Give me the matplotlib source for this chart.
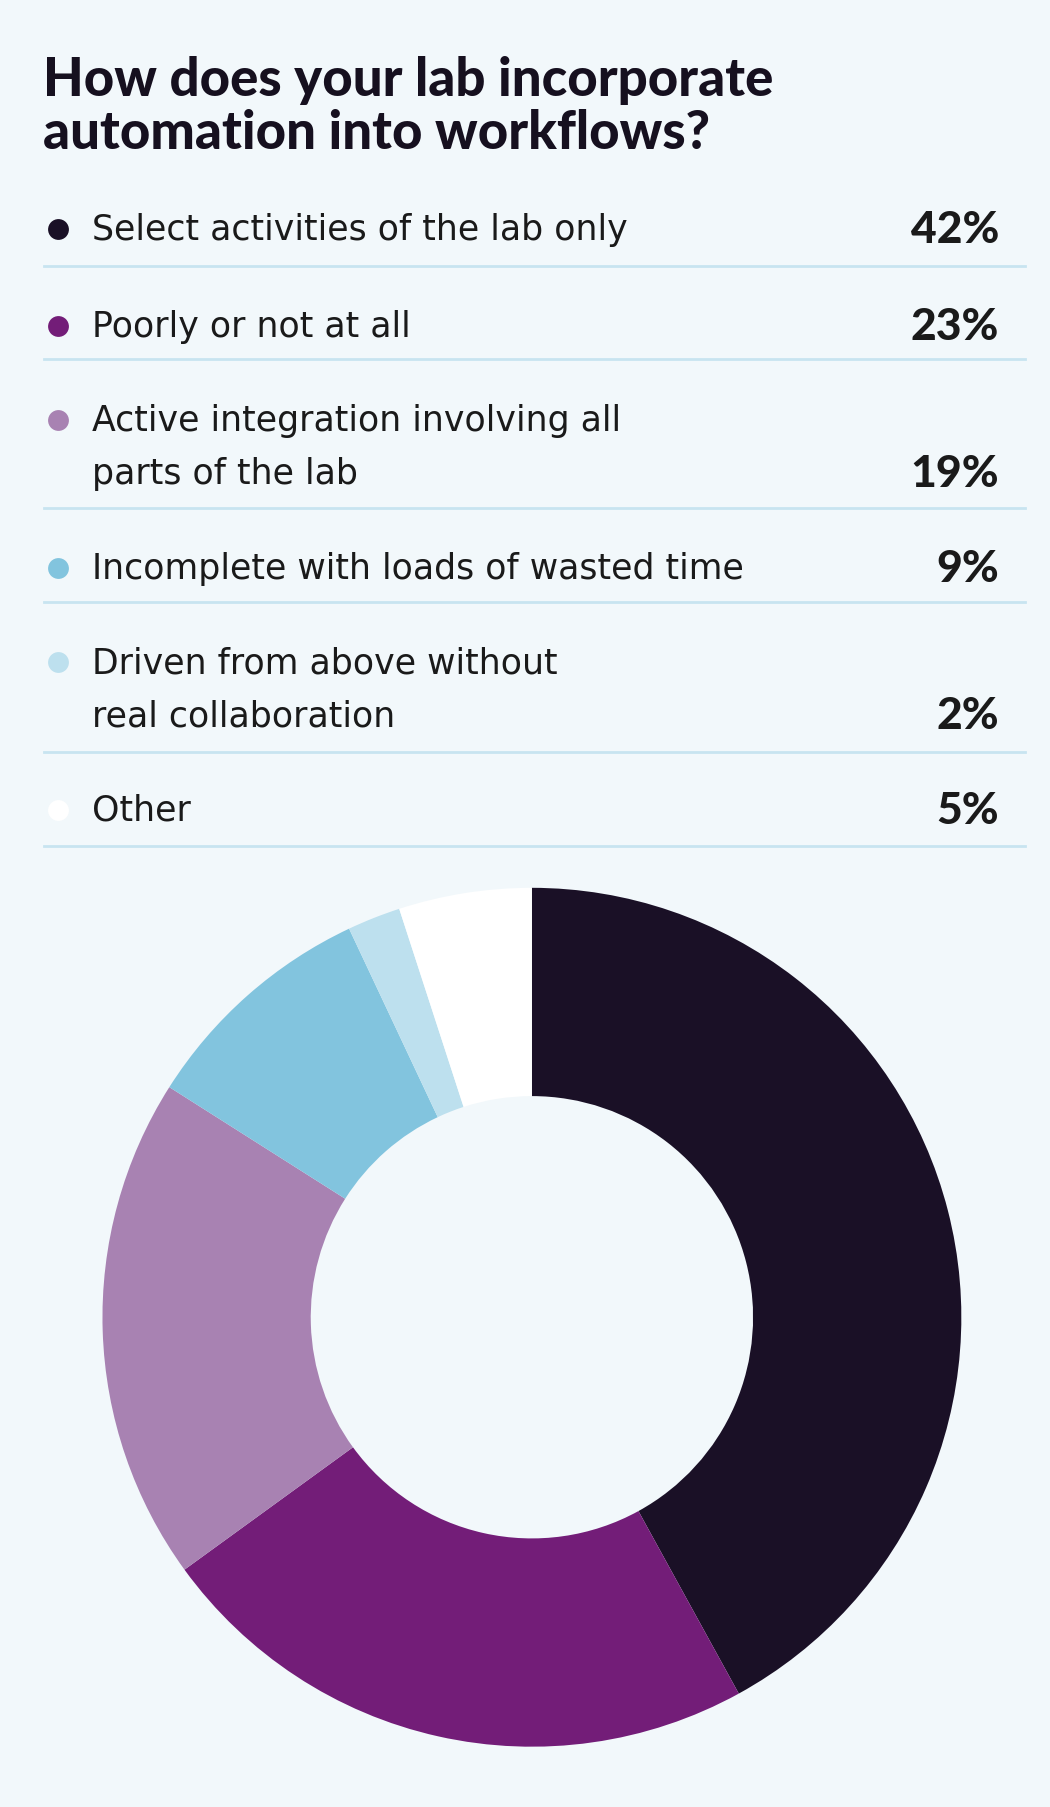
import matplotlib
matplotlib.use("Agg")
import matplotlib.pyplot as plt
from matplotlib.lines import Line2D

# === Data ===
LABELS = [
    "Select activities of the lab only",
    "Poorly or not at all",
    "Active integration involving all\nparts of the lab",
    "Incomplete with loads of wasted time",
    "Driven from above without\nreal collaboration",
    "Other",
]
VALUES = [42, 23, 19, 9, 2, 5]
COLORS = ["#1a1026", "#731d78", "#a882b2", "#82c4de", "#bde0ee", "#ffffff"]
TITLE = "How does your lab incorporate\nautomation into workflows?"

BG = "#f2f8fb"
RULE = "#c8e4f0"
TEXT = "#1a1a1a"

W, H = 1050, 1808
S = 1050 / 912  # layout measured on a 912px-wide copy


def fx(x):
    return x * S / W


def fy(y):
    return 1 - y * S / H


fig = plt.figure(figsize=(W / 100, H / 100), dpi=100)
fig.patch.set_facecolor(BG)

body_font = ["DejaVu Sans"]
bold_font = ["Lato", "DejaVu Sans"]

# title
fig.text(fx(37), fy(93), TITLE, ha="left", va="center", fontsize=38,
         fontweight="black", family=bold_font, color="#16101f", linespacing=1.08)

# legend rows: first-line y, separator y (layout only)
row_y = [200, 284, 366, 494, 576, 704]
rule_y = [232, 313, 442, 524, 654, 736]
line_gap = 46

for lab, val, col, y0, ry in zip(LABELS, VALUES, COLORS, row_y, rule_y):
    n = lab.count("\n") + 1
    fig.add_artist(Line2D([fx(50)], [fy(y0)], marker="o", markersize=15,
                          color=col, markeredgewidth=0, transform=fig.transFigure))
    for i, part in enumerate(lab.split("\n")):
        fig.text(fx(80), fy(y0 + i * line_gap), part, ha="left", va="center",
                 fontsize=25, family=body_font, color=TEXT)
    fig.text(fx(868), fy(y0 + (n - 1) * line_gap), f"{val}%", ha="right",
             va="center", fontsize=32, fontweight="black", family=bold_font,
             color=TEXT)
    fig.add_artist(Line2D([fx(38), fx(890)], [fy(ry), fy(ry)], color=RULE,
                          linewidth=2, transform=fig.transFigure))

# donut
cx, cy, r = 462, 1145, 373
ax = fig.add_axes([fx(cx - r), fy(cy + r), fx(2 * r), fy(0) - fy(2 * r)])
ax.set_facecolor(BG)
ax.pie(VALUES, colors=COLORS, startangle=90, counterclock=False,
       wedgeprops=dict(width=0.485, linewidth=0))
ax.set_xlim(-1, 1)
ax.set_ylim(-1, 1)
ax.set_aspect("equal")
ax.axis("off")

fig.savefig("out.png", dpi=100, facecolor=BG)
